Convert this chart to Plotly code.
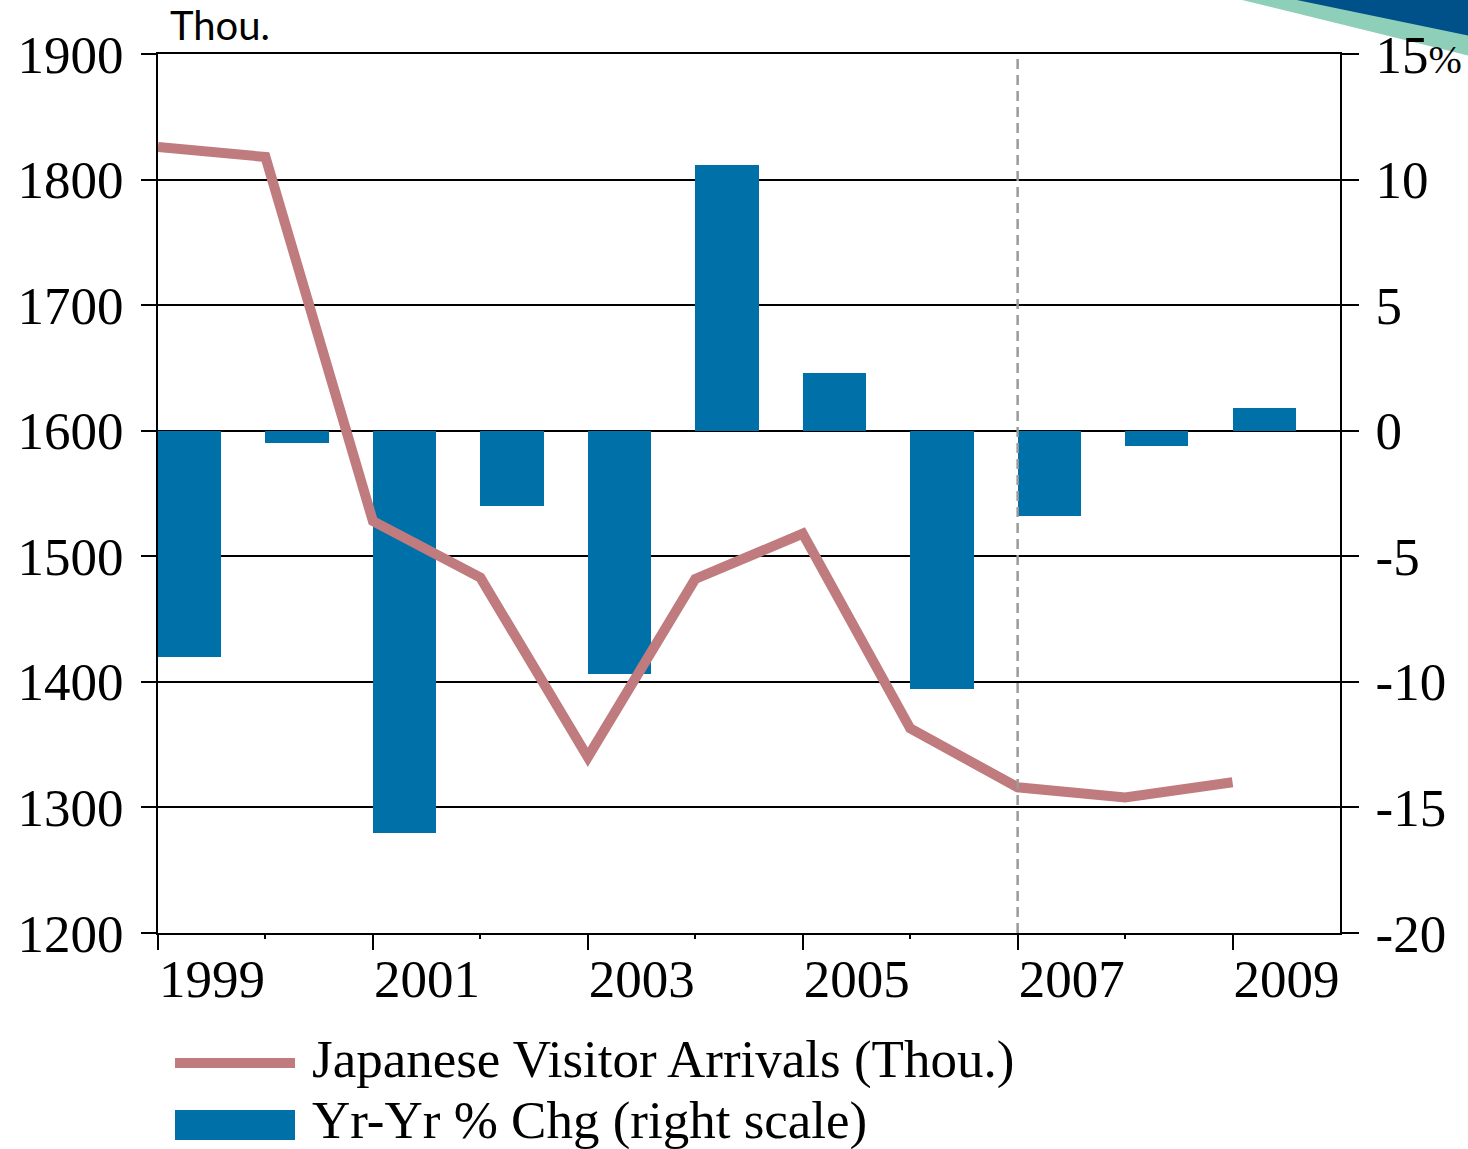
import plotly.graph_objects as go

# Annual Japanese visitor arrivals and their year-over-year change
years = [1999, 2000, 2001, 2002, 2003, 2004, 2005, 2006, 2007, 2008, 2009]
arrivals_thou = [1826, 1818, 1528, 1483, 1340, 1482, 1518, 1363, 1316, 1308, 1320]
yoy_pct_chg = [-9.0, -0.5, -16.0, -3.0, -9.7, 10.6, 2.3, -10.3, -3.4, -0.6, 0.9]

# Axis ticks
left_tickvals = [1200, 1300, 1400, 1500, 1600, 1700, 1800, 1900]
left_ticktext = ["1200", "1300", "1400", "1500", "1600", "1700", "1800", "1900"]
right_tickvals = [-20, -15, -10, -5, 0, 5, 10, 15]
right_ticktext = ["-20", "-15", "-10", "-5", "0", "5", "10",
                  "15<span style='font-size:40px'>%</span>"]
x_tickvals = [1999, 2001, 2003, 2005, 2007, 2009]
x_ticktext = ["1999", "2001", "2003", "2005", "2007", "2009"]
x_minor_tickvals = [2000, 2002, 2004, 2006, 2008]
forecast_start = 2007

LINE_COLOR = "#C07B7E"
BAR_COLOR = "#0070A8"
SERIF = "Liberation Serif, Times New Roman, serif"

W, H = 1468, 1149
L, R, T, B = 158, 1340, 54, 933
PW, PH = R - L, B - T


def px_x(p):
    return (p - L) / PW


def px_y(p):
    return (B - p) / PH


fig = go.Figure()

fig.add_trace(go.Bar(
    x=years, y=yoy_pct_chg, offset=0.0, width=0.59,
    marker=dict(color=BAR_COLOR, line=dict(width=0)),
    xaxis="x", yaxis="y", showlegend=False,
))
fig.add_trace(go.Scatter(
    x=years, y=arrivals_thou, mode="lines",
    line=dict(color=LINE_COLOR, width=10),
    xaxis="x", yaxis="y2", showlegend=False,
))

shapes = [
    # divider marking the start of the forecast years
    dict(type="line", xref="x", yref="paper", x0=forecast_start, x1=forecast_start,
         y0=0, y1=1, line=dict(color="#9A9A9A", width=2.5, dash="10px,6px"), layer="above"),
    # corner ribbon
    dict(type="path", xref="paper", yref="paper", layer="below",
         path=f"M{px_x(1238)},{px_y(-1)} L{px_x(1470)},{px_y(-1)} L{px_x(1470)},{px_y(56)} Z",
         fillcolor="#8ECFBA", line=dict(width=0)),
    dict(type="path", xref="paper", yref="paper", layer="below",
         path=f"M{px_x(1292)},{px_y(-1)} L{px_x(1470)},{px_y(-1)} L{px_x(1470)},{px_y(36)} Z",
         fillcolor="#00508A", line=dict(width=0)),
    # legend swatches
    dict(type="line", xref="paper", yref="paper", x0=px_x(175), x1=px_x(295),
         y0=px_y(1063), y1=px_y(1063), line=dict(color=LINE_COLOR, width=10)),
    dict(type="rect", xref="paper", yref="paper", x0=px_x(175), x1=px_x(295),
         y0=px_y(1110), y1=px_y(1140), fillcolor=BAR_COLOR, line=dict(width=0)),
]

annotations = [
    dict(text="Thou.", xref="paper", yref="paper", x=px_x(168), y=px_y(25),
         xanchor="left", yanchor="middle", showarrow=False,
         font=dict(family="Lato, sans-serif", size=40, color="black")),
    dict(text="Japanese Visitor Arrivals (Thou.)", xref="paper", yref="paper",
         x=px_x(310), y=px_y(1059), xanchor="left", yanchor="middle", showarrow=False,
         font=dict(family=SERIF, size=53, color="black")),
    dict(text="Yr-Yr % Chg (right scale)", xref="paper", yref="paper",
         x=px_x(310), y=px_y(1120), xanchor="left", yanchor="middle", showarrow=False,
         font=dict(family=SERIF, size=53, color="black")),
]

fig.update_layout(
    width=W, height=H,
    margin=dict(l=L, r=W - R, t=T, b=H - B, pad=0, autoexpand=False),
    paper_bgcolor="white", plot_bgcolor="white",
    showlegend=False, bargap=0,
    shapes=shapes, annotations=annotations,
    xaxis=dict(
        range=[1999, 2010], tickmode="array", tickvals=x_tickvals, ticktext=x_ticktext,
        ticks="outside", ticklen=15, tickwidth=2, tickcolor="black",
        ticklabelshift=54, ticklabelstandoff=-17,
        minor=dict(tickmode="array", tickvals=x_minor_tickvals, ticks="outside",
                   ticklen=4, tickwidth=2, tickcolor="black"),
        showline=True, linecolor="black", linewidth=2, mirror=True,
        showgrid=False, zeroline=False, automargin=False,
        tickfont=dict(family=SERIF, size=53, color="black"),
    ),
    yaxis=dict(
        range=[-20, 15], side="right", tickmode="array",
        tickvals=right_tickvals, ticktext=right_ticktext,
        ticks="outside", ticklen=17, tickwidth=2, tickcolor="black",
        ticklabelstandoff=6,
        showline=True, linecolor="black", linewidth=2,
        showgrid=True, gridcolor="black", gridwidth=2, zeroline=False,
        automargin=False,
        tickfont=dict(family=SERIF, size=53, color="black"),
    ),
    yaxis2=dict(
        range=[1200, 1900], side="left", overlaying="y", tickmode="array",
        tickvals=left_tickvals, ticktext=left_ticktext,
        ticks="outside", ticklen=15, tickwidth=2, tickcolor="black",
        ticklabelstandoff=7,
        showline=True, linecolor="black", linewidth=2,
        showgrid=False, zeroline=False, automargin=False,
        tickfont=dict(family=SERIF, size=53, color="black"),
    ),
)

fig.write_html("out.html")
